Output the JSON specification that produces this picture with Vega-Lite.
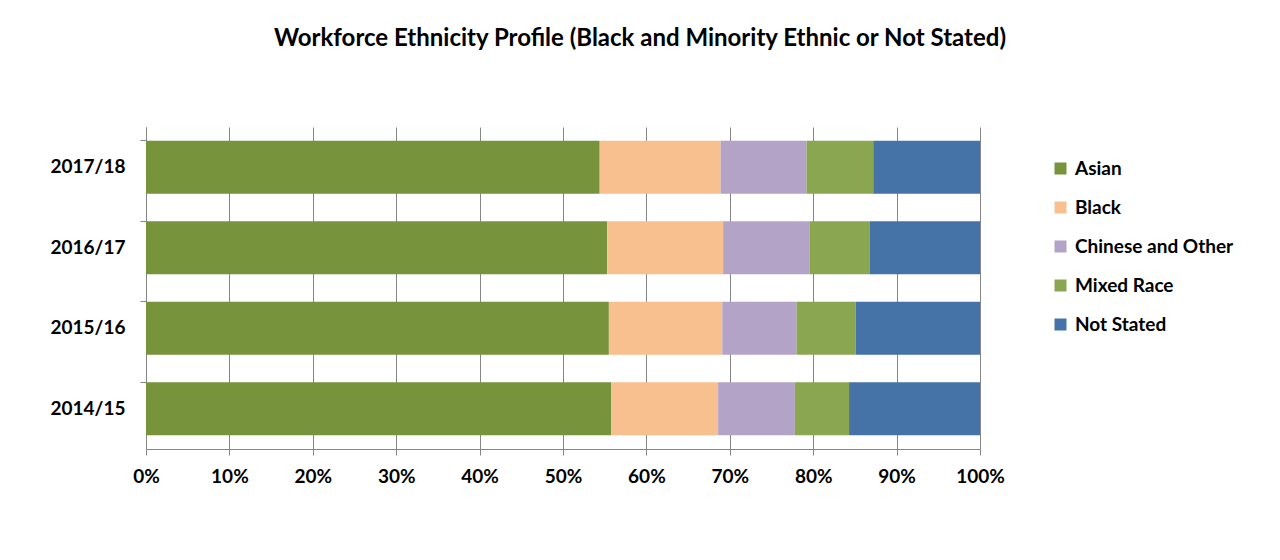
{
  "$schema": "https://vega.github.io/schema/vega-lite/v6.json",
  "width": 834,
  "height": 322,
  "autosize": {"type": "none"},
  "padding": {"left": 146, "top": 127, "right": 300, "bottom": 111},
  "background": "white",
  "title": {
    "text": "Workforce Ethnicity Profile (Black and Minority Ethnic or Not Stated)",
    "anchor": "middle",
    "dx": 77,
    "offset": 57,
    "baseline": "alphabetic",
    "font": "Lato",
    "fontSize": 24,
    "fontWeight": "bold",
    "color": "black"
  },
  "data": {
    "values": [
      {"year": "2017/18", "group": "Asian", "pct": 54.4},
      {"year": "2017/18", "group": "Black", "pct": 14.5},
      {"year": "2017/18", "group": "Chinese and Other", "pct": 10.3},
      {"year": "2017/18", "group": "Mixed Race", "pct": 8.0},
      {"year": "2017/18", "group": "Not Stated", "pct": 12.8},
      {"year": "2016/17", "group": "Asian", "pct": 55.3},
      {"year": "2016/17", "group": "Black", "pct": 13.9},
      {"year": "2016/17", "group": "Chinese and Other", "pct": 10.4},
      {"year": "2016/17", "group": "Mixed Race", "pct": 7.2},
      {"year": "2016/17", "group": "Not Stated", "pct": 13.2},
      {"year": "2015/16", "group": "Asian", "pct": 55.5},
      {"year": "2015/16", "group": "Black", "pct": 13.6},
      {"year": "2015/16", "group": "Chinese and Other", "pct": 8.9},
      {"year": "2015/16", "group": "Mixed Race", "pct": 7.1},
      {"year": "2015/16", "group": "Not Stated", "pct": 14.9},
      {"year": "2014/15", "group": "Asian", "pct": 55.8},
      {"year": "2014/15", "group": "Black", "pct": 12.8},
      {"year": "2014/15", "group": "Chinese and Other", "pct": 9.2},
      {"year": "2014/15", "group": "Mixed Race", "pct": 6.5},
      {"year": "2014/15", "group": "Not Stated", "pct": 15.7}
    ]
  },
  "resolve": {"axis": {"y": "independent"}},
  "layer": [
    {
      "mark": {"type": "bar"},
      "encoding": {
        "y": {
          "field": "year",
          "type": "nominal",
          "sort": ["2017/18", "2016/17", "2015/16", "2014/15"],
          "scale": {"paddingInner": 0.34, "paddingOuter": 0.17},
          "axis": {
            "orient": "left",
            "title": null,
            "domain": false,
            "ticks": false,
            "tickSize": 0,
            "labelPadding": 21,
            "labelFont": "Lato",
            "labelFontSize": 19,
            "labelFontWeight": "bold",
            "labelColor": "black"
          }
        },
        "x": {
          "field": "pct",
          "type": "quantitative",
          "stack": "normalize",
          "scale": {"domain": [0, 1]},
          "axis": {
            "title": null,
            "format": ".0%",
            "values": [0, 0.1, 0.2, 0.3, 0.4, 0.5, 0.6, 0.7, 0.8, 0.9, 1],
            "grid": true,
            "gridColor": "#868686",
            "gridOpacity": 1,
            "domainColor": "#868686",
            "tickColor": "#868686",
            "tickSize": 6,
            "labelPadding": 12,
            "labelFont": "Lato",
            "labelFontSize": 19,
            "labelFontWeight": "bold",
            "labelColor": "black",
            "labelFlush": false
          }
        },
        "color": {
          "field": "group",
          "type": "nominal",
          "scale": {
            "domain": ["Asian", "Black", "Chinese and Other", "Mixed Race", "Not Stated"],
            "range": ["#77933C", "#F9C08F", "#B3A3C7", "#8BA650", "#4573A7"]
          },
          "legend": {
            "title": null,
            "orient": "none",
            "legendX": 905,
            "legendY": 32,
            "padding": 0,
            "symbolType": "square",
            "symbolSize": 144,
            "symbolStrokeWidth": 0,
            "symbolOpacity": 1,
            "labelFont": "Lato",
            "labelFontSize": 19,
            "labelFontWeight": "bold",
            "labelColor": "black",
            "labelOffset": 5,
            "rowPadding": 19
          }
        },
        "order": {"field": "group", "sort": "ascending"}
      }
    },
    {
      "mark": {"type": "rule", "strokeOpacity": 0},
      "encoding": {
        "y": {
          "field": "year",
          "type": "nominal",
          "sort": ["2017/18", "2016/17", "2015/16", "2014/15"],
          "axis": {
            "orient": "left",
            "title": null,
            "labels": false,
            "bandPosition": 0,
            "domain": true,
            "domainColor": "#868686",
            "ticks": true,
            "tickColor": "#868686",
            "tickSize": 6,
            "grid": false
          }
        }
      }
    }
  ],
  "config": {
    "view": {"stroke": null},
    "axis": {"domainWidth": 1, "tickWidth": 1, "gridWidth": 1}
  }
}
